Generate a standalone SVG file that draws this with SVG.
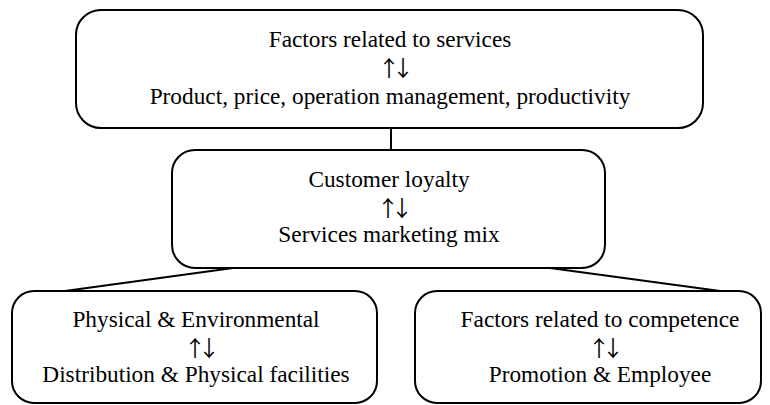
<svg xmlns="http://www.w3.org/2000/svg" width="770" height="405" viewBox="0 0 770 405">
<style>
.box{fill:#fff;stroke:#000;stroke-width:2}
.ln{stroke:#000;stroke-width:2;fill:none}
.t{font-family:'Liberation Serif','DejaVu Serif',serif;font-size:23.3px;fill:#000;text-anchor:middle}
.a{font-family:'Noto Sans CJK SC','DejaVu Sans',sans-serif;font-size:22px;fill:#000;text-anchor:middle;letter-spacing:-8px}
</style>
<rect width="770" height="405" fill="#fff"/>
<g id="connectors">
<line class="ln" x1="391" y1="128" x2="391" y2="150"/>
<line class="ln" x1="233" y1="268" x2="65" y2="291"/>
<line class="ln" x1="550" y1="268" x2="720" y2="291"/>
</g>
<g id="services">
<rect class="box" x="76" y="10" width="627" height="118" rx="25"/>
<text class="t" x="390" y="47">Factors related to services</text>
<text class="a" x="392" y="76">↑↓</text>
<text class="t" x="390" y="104">Product, price, operation management, productivity</text>
</g>
<g id="loyalty">
<rect class="box" x="172" y="150" width="433" height="118" rx="23"/>
<text class="t" x="389" y="187">Customer loyalty</text>
<text class="a" x="391" y="216">↑↓</text>
<text class="t" x="389" y="242">Services marketing mix</text>
</g>
<g id="physical">
<rect class="box" x="12" y="291" width="365" height="112" rx="22"/>
<text class="t" x="196" y="327">Physical &amp; Environmental</text>
<text class="a" x="198" y="356">↑↓</text>
<text class="t" x="196" y="382">Distribution &amp; Physical facilities</text>
</g>
<g id="competence">
<rect class="box" x="415" y="291" width="346" height="112" rx="22"/>
<text class="t" x="600" y="327">Factors related to competence</text>
<text class="a" x="602" y="356">↑↓</text>
<text class="t" x="600" y="382">Promotion &amp; Employee</text>
</g>
</svg>
